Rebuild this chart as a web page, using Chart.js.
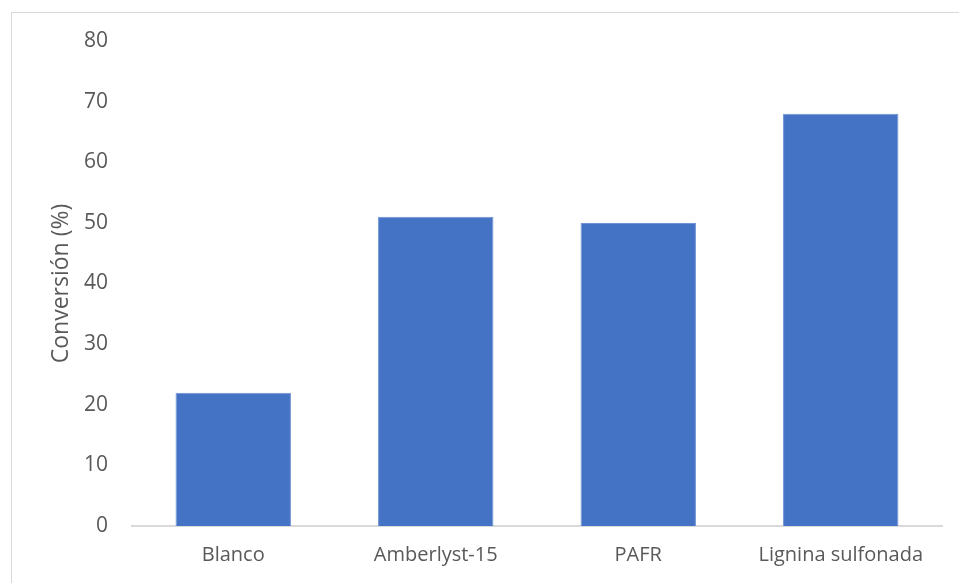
<!DOCTYPE html>
<html>
<head>
<meta charset="utf-8">
<script src="https://cdn.jsdelivr.net/npm/chart.js@4"></script>
<style>
    html, body { margin: 0; padding: 0; background: #fff; }
    #wrap { position: relative; width: 959px; height: 583px; overflow: hidden; }
    #frame { position: absolute; left: 11px; top: 12px; width: 1000px; height: 1000px; border: 1px solid #d9d9d9; box-sizing: border-box; }
    canvas { position: absolute; left: 0; top: 0; }
</style>
</head>
<body>
<div id="wrap">
    <div id="frame"></div>
    <canvas id="barChart" width="959" height="583"></canvas>
</div>
<script>
const categories = ['Blanco', 'Amberlyst-15', 'PAFR', 'Lignina sulfonada'];
const conversion = [22, 51, 50, 68];
const yTicks = [0, 10, 20, 30, 40, 50, 60, 70, 80];

const textColor = '#595959';
const fontFamily = '"Open Sans", sans-serif';

new Chart(document.getElementById('barChart'), {
    type: 'bar',
    data: {
        labels: categories,
        datasets: [{
            label: 'Conversión',
            data: conversion,
            backgroundColor: '#4472c4',
            borderColor: '#6f93d3',
            borderWidth: 1,
            categoryPercentage: 1,
            barPercentage: 0.57
        }]
    },
    options: {
        responsive: false,
        animation: false,
        layout: { padding: { left: 40, top: 41, right: 17, bottom: 0 } },
        plugins: {
            legend: { display: false },
            tooltip: { enabled: false }
        },
        scales: {
            x: {
                grid: { display: false, drawTicks: false },
                border: { display: true, color: '#d9d9d9', width: 2 },
                ticks: { color: textColor, font: { family: fontFamily, size: 20 }, padding: 17, maxRotation: 0 },
                afterFit: (scale) => { scale.height = 57; }
            },
            y: {
                min: 0,
                max: 80,
                grid: { display: false, drawTicks: false },
                border: { display: false },
                afterBuildTicks: (scale) => { scale.ticks = yTicks.map(v => ({ value: v })); },
                ticks: { color: textColor, font: { family: fontFamily, size: 21 }, padding: 24 },
                title: {
                    display: true,
                    text: 'Conversión (%)',
                    color: textColor,
                    font: { family: fontFamily, size: 23, weight: 'normal' },
                    padding: { top: 8, bottom: 0 }
                },
                afterFit: (scale) => { scale.width = 92; }
            }
        }
    }
});
</script>
</body>
</html>
